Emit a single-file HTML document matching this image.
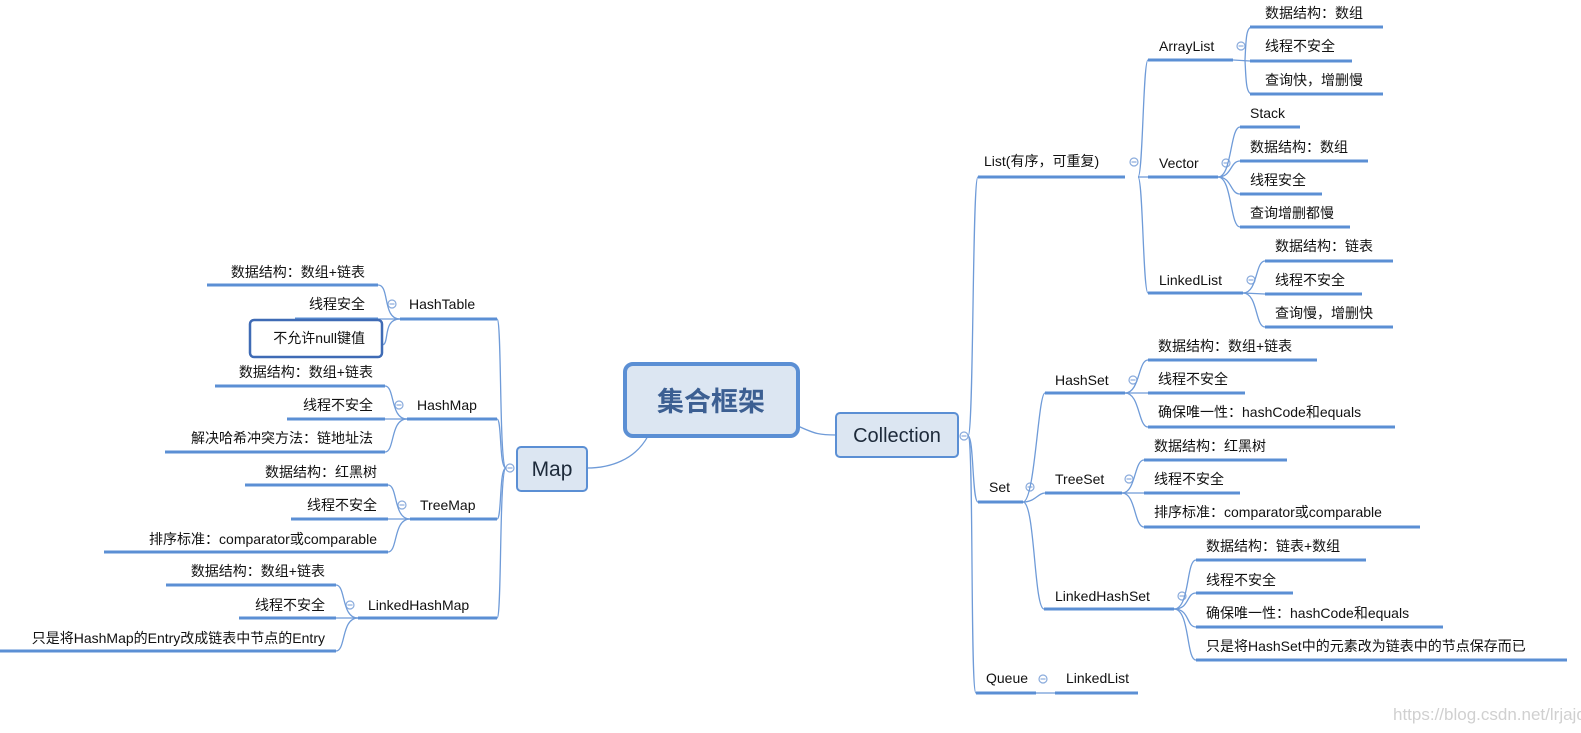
<!DOCTYPE html>
<html><head><meta charset="utf-8"><style>
html,body{margin:0;padding:0;background:#fff;}
svg{display:block;}
text{font-family:"Liberation Sans","Noto Sans CJK SC",sans-serif;font-size:14px;fill:#111;}
.ul{stroke:#5b8fd4;stroke-width:3;fill:none;}
.cv{stroke:#6f9bd8;stroke-width:1.3;fill:none;}
.cr{fill:#fff;stroke:#8aabdc;stroke-width:1.2;}
.mn{stroke:#8aabdc;stroke-width:1.2;}
.r{text-anchor:end;}
</style></head><body>
<svg width="1581" height="733" viewBox="0 0 1581 733" xmlns="http://www.w3.org/2000/svg">
<!-- central connectors -->
<path class="cv" d="M798 426 C815 434 820 435 836 435"/>
<path class="cv" d="M648 436 C635 460 610 468 587 468"/>
<!-- central -->
<rect x="625" y="364" width="173" height="72" rx="8" fill="#dce6f2" stroke="#5b8fd4" stroke-width="4"/>
<text x="711" y="411" text-anchor="middle" style="font-size:27px;font-weight:bold;fill:#3c5f92">集合框架</text>
<rect x="836" y="413" width="122" height="44" rx="4" fill="#dce6f2" stroke="#5b8fd4" stroke-width="2"/>
<text x="897" y="442" text-anchor="middle" style="font-size:20px;fill:#1d2a3a">Collection</text>
<rect x="517" y="447" width="70" height="44" rx="4" fill="#dce6f2" stroke="#5b8fd4" stroke-width="2"/>
<text x="552" y="476" text-anchor="middle" style="font-size:21px;fill:#1d2a3a">Map</text>

<!-- ===== Right: Collection ===== -->
<path class="cv" d="M968 436 C974 436 972 177 978 177"/>
<path class="cv" d="M968 436 C974 436 972 502 978 502"/>
<path class="cv" d="M968 436 C974 436 970 693 976 693"/>
<circle class="cr" cx="964" cy="436" r="4"/><line class="mn" x1="961.5" y1="436" x2="966.5" y2="436"/>

<line class="ul" x1="978" y1="177" x2="1125" y2="177"/><text x="984" y="166">List(有序，可重复)</text>
<circle class="cr" cx="1134" cy="162" r="4"/><line class="mn" x1="1131.5" y1="162" x2="1136.5" y2="162"/>
<line class="ul" x1="978" y1="502" x2="1023" y2="502"/><text x="989" y="492">Set</text>
<circle class="cr" cx="1030" cy="487" r="4"/><line class="mn" x1="1027.5" y1="487" x2="1032.5" y2="487"/>
<line class="ul" x1="976" y1="693" x2="1036" y2="693"/><text x="986" y="683">Queue</text>
<circle class="cr" cx="1043" cy="679" r="4"/><line class="mn" x1="1040.5" y1="679" x2="1045.5" y2="679"/>
<line class="cv" x1="1036" y1="693" x2="1055" y2="693"/>
<line class="ul" x1="1055" y1="693" x2="1138" y2="693"/><text x="1066" y="683">LinkedList</text>

<!-- List kids -->
<path class="cv" d="M1138 177 C1143 177 1143 60 1148 60"/>
<path class="cv" d="M1138 177 L1148 177"/>
<path class="cv" d="M1138 177 C1143 177 1143 293 1148 293"/>
<line class="ul" x1="1148" y1="60" x2="1233" y2="60"/><text x="1159" y="51">ArrayList</text>
<circle class="cr" cx="1241" cy="46" r="4"/><line class="mn" x1="1238.5" y1="46" x2="1243.5" y2="46"/>
<line class="ul" x1="1148" y1="177" x2="1218" y2="177"/><text x="1159" y="168">Vector</text>
<circle class="cr" cx="1226" cy="163" r="4"/><line class="mn" x1="1223.5" y1="163" x2="1228.5" y2="163"/>
<line class="ul" x1="1148" y1="293" x2="1243" y2="293"/><text x="1159" y="285">LinkedList</text>
<circle class="cr" cx="1251" cy="280" r="4"/><line class="mn" x1="1248.5" y1="280" x2="1253.5" y2="280"/>

<!-- ArrayList kids -->
<path class="cv" d="M1233 60 L1250 61"/>
<path class="cv" d="M1245 60 C1246 40 1246 27 1252 27"/>
<path class="cv" d="M1245 60 C1246 80 1246 94 1252 94"/>
<line class="ul" x1="1250" y1="27" x2="1383" y2="27"/><text x="1265" y="18">数据结构：数组</text>
<line class="ul" x1="1250" y1="61" x2="1352" y2="61"/><text x="1265" y="51">线程不安全</text>
<line class="ul" x1="1250" y1="94" x2="1383" y2="94"/><text x="1265" y="85">查询快，增删慢</text>
<!-- Vector kids -->
<path class="cv" d="M1218 177 C1232 177 1230 127 1240 127"/>
<path class="cv" d="M1218 177 C1232 177 1230 161 1240 161"/>
<path class="cv" d="M1218 177 C1232 177 1230 194 1240 194"/>
<path class="cv" d="M1218 177 C1232 177 1230 227 1240 227"/>
<line class="ul" x1="1240" y1="127" x2="1300" y2="127"/><text x="1250" y="118">Stack</text>
<line class="ul" x1="1240" y1="161" x2="1368" y2="161"/><text x="1250" y="152">数据结构：数组</text>
<line class="ul" x1="1240" y1="194" x2="1322" y2="194"/><text x="1250" y="185">线程安全</text>
<line class="ul" x1="1240" y1="227" x2="1350" y2="227"/><text x="1250" y="218">查询增删都慢</text>
<!-- LinkedList kids -->
<path class="cv" d="M1243 293 C1258 293 1255 261 1265 261"/>
<path class="cv" d="M1243 293 L1265 294"/>
<path class="cv" d="M1243 293 C1258 293 1255 327 1265 327"/>
<line class="ul" x1="1265" y1="261" x2="1393" y2="261"/><text x="1275" y="251">数据结构：链表</text>
<line class="ul" x1="1265" y1="294" x2="1362" y2="294"/><text x="1275" y="285">线程不安全</text>
<line class="ul" x1="1265" y1="327" x2="1393" y2="327"/><text x="1275" y="318">查询慢，增删快</text>

<!-- Set kids -->
<path class="cv" d="M1023 502 C1035 502 1038 393 1045 393"/>
<path class="cv" d="M1023 502 C1035 502 1038 493 1045 493"/>
<path class="cv" d="M1023 502 C1035 502 1034 609 1044 609"/>
<line class="ul" x1="1045" y1="393" x2="1125" y2="393"/><text x="1055" y="385">HashSet</text>
<circle class="cr" cx="1133" cy="380" r="4"/><line class="mn" x1="1130.5" y1="380" x2="1135.5" y2="380"/>
<line class="ul" x1="1045" y1="493" x2="1122" y2="493"/><text x="1055" y="484">TreeSet</text>
<circle class="cr" cx="1129" cy="479" r="4"/><line class="mn" x1="1126.5" y1="479" x2="1131.5" y2="479"/>
<line class="ul" x1="1044" y1="609" x2="1174" y2="609"/><text x="1055" y="601">LinkedHashSet</text>
<circle class="cr" cx="1182" cy="596" r="4"/><line class="mn" x1="1179.5" y1="596" x2="1184.5" y2="596"/>

<!-- HashSet kids -->
<path class="cv" d="M1125 393 C1140 393 1138 360 1148 360"/>
<path class="cv" d="M1125 393 L1148 393"/>
<path class="cv" d="M1125 393 C1140 393 1138 427 1148 427"/>
<line class="ul" x1="1148" y1="360" x2="1317" y2="360"/><text x="1158" y="351">数据结构：数组+链表</text>
<line class="ul" x1="1148" y1="393" x2="1245" y2="393"/><text x="1158" y="384">线程不安全</text>
<line class="ul" x1="1148" y1="427" x2="1395" y2="427"/><text x="1158" y="417">确保唯一性：hashCode和equals</text>
<!-- TreeSet kids -->
<path class="cv" d="M1122 493 C1136 493 1134 460 1144 460"/>
<path class="cv" d="M1122 493 L1144 493"/>
<path class="cv" d="M1122 493 C1136 493 1134 527 1144 527"/>
<line class="ul" x1="1144" y1="460" x2="1287" y2="460"/><text x="1154" y="451">数据结构：红黑树</text>
<line class="ul" x1="1144" y1="493" x2="1240" y2="493"/><text x="1154" y="484">线程不安全</text>
<line class="ul" x1="1144" y1="527" x2="1420" y2="527"/><text x="1154" y="517">排序标准：comparator或comparable</text>
<!-- LinkedHashSet kids -->
<path class="cv" d="M1174 609 C1190 609 1186 560 1196 560"/>
<path class="cv" d="M1174 609 C1190 609 1186 593 1196 593"/>
<path class="cv" d="M1174 609 C1190 609 1186 627 1196 627"/>
<path class="cv" d="M1174 609 C1190 609 1186 660 1196 660"/>
<line class="ul" x1="1196" y1="560" x2="1366" y2="560"/><text x="1206" y="551">数据结构：链表+数组</text>
<line class="ul" x1="1196" y1="593" x2="1293" y2="593"/><text x="1206" y="585">线程不安全</text>
<line class="ul" x1="1196" y1="627" x2="1443" y2="627"/><text x="1206" y="618">确保唯一性：hashCode和equals</text>
<line class="ul" x1="1196" y1="660" x2="1567" y2="660"/><text x="1206" y="651">只是将HashSet中的元素改为链表中的节点保存而已</text>

<!-- ===== Left: Map ===== -->
<circle class="cr" cx="510" cy="468" r="4"/><line class="mn" x1="507.5" y1="468" x2="512.5" y2="468"/>
<path class="cv" d="M506 468 C499 468 502 319 497 319"/>
<path class="cv" d="M506 468 C499 468 502 419 497 419"/>
<path class="cv" d="M506 468 C499 468 502 519 497 519"/>
<path class="cv" d="M506 468 C499 468 502 618 497 618"/>
<line class="ul" x1="400" y1="319" x2="497" y2="319"/><text x="409" y="309">HashTable</text>
<circle class="cr" cx="392" cy="304" r="4"/><line class="mn" x1="389.5" y1="304" x2="394.5" y2="304"/>
<line class="ul" x1="407" y1="419" x2="497" y2="419"/><text x="417" y="410">HashMap</text>
<circle class="cr" cx="399" cy="405" r="4"/><line class="mn" x1="396.5" y1="405" x2="401.5" y2="405"/>
<line class="ul" x1="410" y1="519" x2="497" y2="519"/><text x="420" y="510">TreeMap</text>
<circle class="cr" cx="402" cy="505" r="4"/><line class="mn" x1="399.5" y1="505" x2="404.5" y2="505"/>
<line class="ul" x1="358" y1="618" x2="497" y2="618"/><text x="368" y="610">LinkedHashMap</text>
<circle class="cr" cx="350" cy="605" r="4"/><line class="mn" x1="347.5" y1="605" x2="352.5" y2="605"/>

<!-- HashTable kids -->
<path class="cv" d="M400 319 C382 319 390 285 378 285"/>
<path class="cv" d="M400 319 L378 319"/>
<path class="cv" d="M400 319 C382 319 390 345 382 345"/>
<line class="ul" x1="207" y1="285" x2="378" y2="285"/><text class="r" x="365" y="277">数据结构：数组+链表</text>
<line class="ul" x1="295" y1="319" x2="378" y2="319"/><text class="r" x="365" y="309">线程安全</text>
<rect x="250" y="320" width="132" height="37" rx="4" fill="#fff" stroke="#3f6bb5" stroke-width="2.5"/>
<text class="r" x="365" y="343">不允许null键值</text>
<!-- HashMap kids -->
<path class="cv" d="M407 419 C390 419 395 386 385 386"/>
<path class="cv" d="M407 419 L385 419"/>
<path class="cv" d="M407 419 C390 419 395 452 385 452"/>
<line class="ul" x1="215" y1="386" x2="385" y2="386"/><text class="r" x="373" y="377">数据结构：数组+链表</text>
<line class="ul" x1="287" y1="419" x2="385" y2="419"/><text class="r" x="373" y="410">线程不安全</text>
<line class="ul" x1="165" y1="452" x2="385" y2="452"/><text class="r" x="373" y="443">解决哈希冲突方法：链地址法</text>
<!-- TreeMap kids -->
<path class="cv" d="M410 519 C393 519 398 485 388 485"/>
<path class="cv" d="M410 519 L388 519"/>
<path class="cv" d="M410 519 C393 519 398 552 388 552"/>
<line class="ul" x1="245" y1="485" x2="388" y2="485"/><text class="r" x="377" y="477">数据结构：红黑树</text>
<line class="ul" x1="291" y1="519" x2="388" y2="519"/><text class="r" x="377" y="510">线程不安全</text>
<line class="ul" x1="104" y1="552" x2="388" y2="552"/><text class="r" x="377" y="544">排序标准：comparator或comparable</text>
<!-- LinkedHashMap kids -->
<path class="cv" d="M358 618 C341 618 346 585 336 585"/>
<path class="cv" d="M358 618 L336 618"/>
<path class="cv" d="M358 618 C341 618 346 651 336 651"/>
<line class="ul" x1="166" y1="585" x2="336" y2="585"/><text class="r" x="325" y="576">数据结构：数组+链表</text>
<line class="ul" x1="239" y1="618" x2="336" y2="618"/><text class="r" x="325" y="610">线程不安全</text>
<line class="ul" x1="0" y1="651" x2="336" y2="651"/><text class="r" x="325" y="643">只是将HashMap的Entry改成链表中节点的Entry</text>

<text x="1393" y="720" style="font-size:17px;fill:#d0d0d0">https://blog.csdn.net/lrjajq</text>
</svg>
</body></html>
